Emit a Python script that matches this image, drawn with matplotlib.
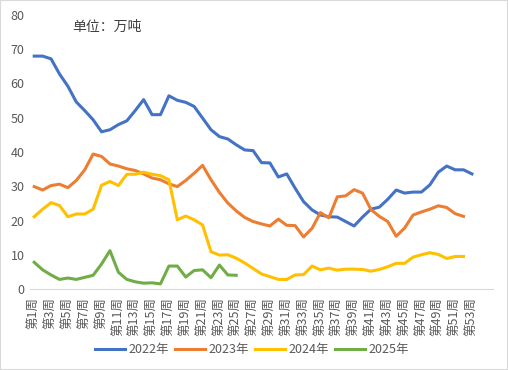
import numpy as np
import matplotlib
matplotlib.use('Agg')
import matplotlib.pyplot as plt
from matplotlib.patches import Rectangle

plt.rcParams['font.family'] = ['Noto Sans CJK SC', 'DejaVu Sans']

#-------------------------------------------------------------------------------------
# weekly data, 万吨
y2022 = [68.0, 68.0, 67.2, 62.8, 59.2, 54.6, 52.1, 49.4, 45.9, 46.5,
         48.0, 49.1, 52.1, 55.3, 50.9, 50.9, 56.4, 55.1, 54.5, 53.3,
         49.9, 46.5, 44.5, 43.8, 42.1, 40.6, 40.4, 36.9, 36.8, 32.7,
         33.6, 29.4, 25.5, 23.1, 21.6, 21.1, 21.0, 19.7, 18.4, 21.0,
         23.3, 23.9, 26.2, 28.9, 28.0, 28.3, 28.3, 30.4, 34.1, 35.9,
         34.8, 34.8, 33.6]
y2023 = [29.9, 28.9, 30.2, 30.6, 29.6, 31.7, 34.8, 39.4, 38.7, 36.5,
         35.9, 35.1, 34.6, 33.6, 32.4, 31.9, 30.7, 29.9, 31.7, 33.8,
         36.1, 31.9, 28.2, 25.1, 22.8, 20.9, 19.7, 19.0, 18.4, 20.4,
         18.6, 18.5, 15.2, 17.7, 22.3, 20.8, 26.9, 27.2, 29.0, 28.0,
         23.2, 21.2, 19.7, 15.4, 17.8, 21.6, 22.5, 23.3, 24.3, 23.8,
         22.0, 21.2]
y2024 = [21.1, 23.3, 25.2, 24.4, 21.1, 21.9, 21.9, 23.3, 30.3, 31.4,
         30.2, 33.5, 33.5, 34.1, 33.5, 33.1, 31.9, 20.2, 21.3, 20.2,
         18.7, 10.9, 9.9, 10.0, 9.0, 7.6, 6.0, 4.4, 3.6, 2.8,
         2.8, 4.1, 4.2, 6.7, 5.6, 6.1, 5.5, 5.8, 5.8, 5.7,
         5.2, 5.7, 6.5, 7.5, 7.5, 9.3, 10.0, 10.6, 10.1, 8.9,
         9.5, 9.5]
y2025 = [7.8, 5.6, 4.1, 2.8, 3.2, 2.8, 3.4, 4.0, 7.3, 11.2,
         4.9, 2.8, 2.1, 1.7, 1.8, 1.5, 6.7, 6.7, 3.5, 5.4,
         5.6, 3.3, 7.0, 4.1, 4.0]

series = ['2022年', '2023年', '2024年', '2025年']
colors = ['#4472C4', '#ED7D31', '#FFC000', '#70AD47']

weeks = ['第%d周' % i for i in range(1, 54)]

#-------------------------------------------------------------------------------------
fig = plt.figure(figsize=(5.08, 3.70), dpi=100)
ax = fig.add_axes([30/508, 1-289/370, 463/508, 274/370])

for name, vals, c in zip(series, [y2022, y2023, y2024, y2025], colors):
    x = np.arange(1, len(vals) + 1)
    ax.plot(x, vals, color=c, lw=2.2, label=name, solid_joinstyle='round')

ax.set_xlim(0.5, 55.5)
ax.set_ylim(0, 80)
ax.set_yticks(range(0, 81, 10))
ax.set_xticks(range(1, 54, 2))
ax.set_xticklabels(weeks[::2], rotation=90, fontsize=9, color='#595959')
ax.tick_params(axis='y', length=0, pad=4, labelsize=9, labelcolor='#595959')
ax.tick_params(axis='x', length=0, pad=6)

for s in ['top', 'right', 'left']:
    ax.spines[s].set_visible(False)
ax.spines['bottom'].set_color('#d9d9d9')

fig.text(72/508, 1-27/370, '单位：万吨', fontsize=10, color='#404040', va='center')

fig.legend(loc='center', bbox_to_anchor=(252/508, 1-350/370), ncol=4, frameon=False,
           fontsize=9, handlelength=2.4, handletextpad=0.25, columnspacing=0.5,
           labelcolor='#595959')

fig.patches.append(Rectangle((0, 0), 1, 1, transform=fig.transFigure, fill=False,
                             edgecolor='#d9d9d9', lw=1.5))

fig.savefig('out.png', dpi=100)
